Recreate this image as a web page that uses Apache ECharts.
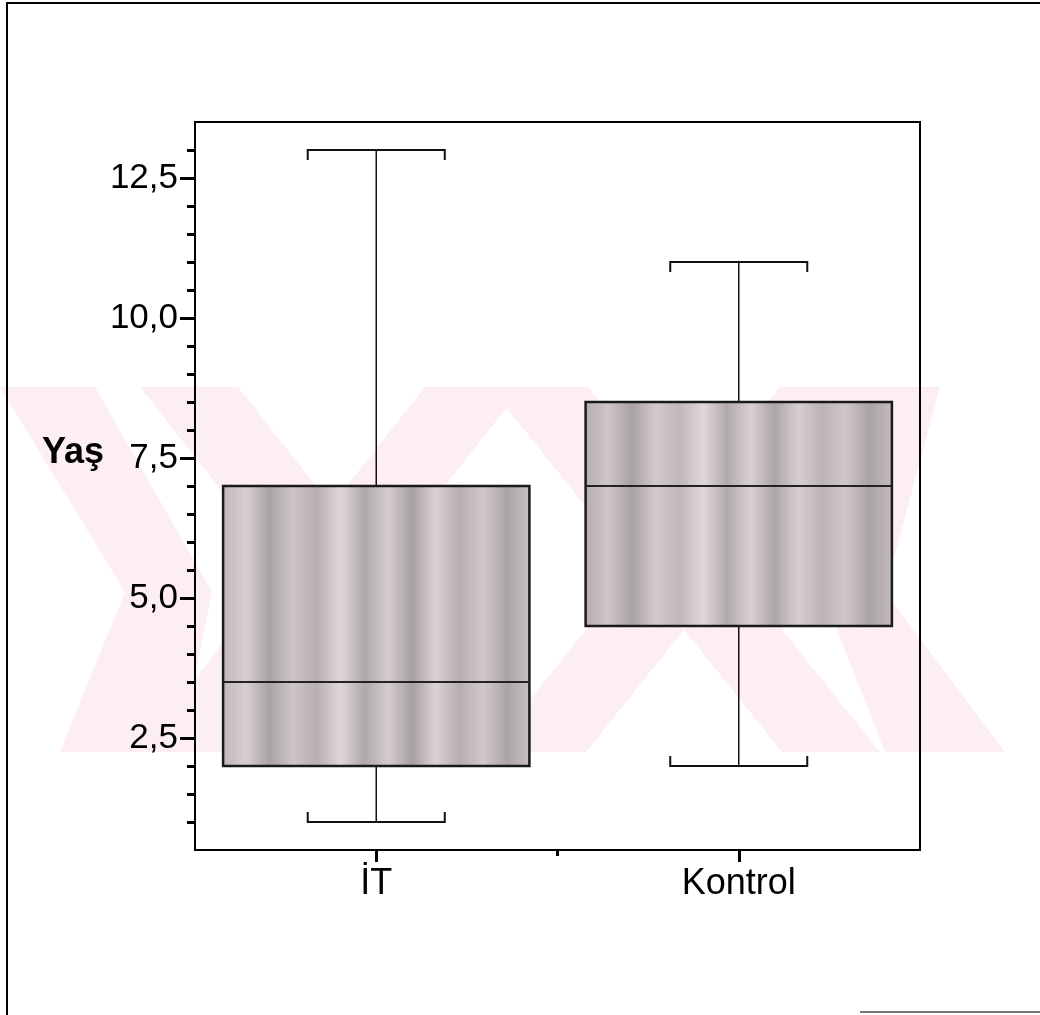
<!DOCTYPE html>
<html>
<head>
<meta charset="utf-8">
<title>Yaş</title>
<script src="https://cdn.jsdelivr.net/npm/echarts@6.0.0/dist/echarts.min.js"></script>
<style>
  html, body { margin: 0; padding: 0; background: #fff; }
  #chart { width: 1040px; height: 1015px; }
</style>
</head>
<body>
<div id="chart"></div>
<script>
// gruplar
var groups = ["İT", "Kontrol"];
// kutu grafiği: alt uç, Q1, medyan, Q3, üst uç
var whiskerLow = [1.0, 2.0];
var q1 = [2.0, 4.5];
var median = [3.5, 7.0];
var q3 = [7.0, 8.5];
var whiskerHigh = [13.0, 11.0];

// y ekseni
var yMin = 0.5, yMax = 13.5;
var yLabels = [2.5, 5.0, 7.5, 10.0, 12.5];
var yMinorTicks = [1.0, 1.5, 2.0, 3.0, 3.5, 4.0, 4.5, 5.5, 6.0, 6.5, 7.0,
                   8.0, 8.5, 9.0, 9.5, 10.5, 11.0, 11.5, 12.0, 13.0];

var font = "'Liberation Sans', Arial, sans-serif";

var rows = [];
for (var i = 0; i < groups.length; i++) {
  rows.push([i, whiskerLow[i], q1[i], median[i], q3[i], whiskerHigh[i]]);
}

// kutu dolgusu (dikey seritli gri-pembe doku)
var stripes = [
  ['#bdb5b8', '#d9cfd3', '#a9a3a6', '#cec4c8', '#b7afb2', '#e0d6da', '#aea8ab',
   '#d5cbcf', '#a6a0a3', '#dbd1d5', '#b6aeb1', '#d2c8cc', '#aaa4a7', '#c8bfc3'],
  ['#b4acaf', '#cfc5c9', '#a8a2a5', '#d3c9cd', '#bfb7ba', '#e2d8dc', '#b0aaad',
   '#dad0d4', '#aba5a8', '#d8ced2', '#bcb4b7', '#d0c6ca', '#a9a3a6', '#c4bbbf']
];
function boxFill(k) {
  var s = stripes[k % stripes.length];
  var stops = [];
  for (var j = 0; j < s.length; j++) {
    stops.push({ offset: j / (s.length - 1), color: s[j] });
  }
  return { type: 'linear', x: 0, y: 0, x2: 1, y2: 0, colorStops: stops };
}

function renderBox(params, api) {
  var i = api.value(0);
  var band = api.size([1, 0])[0];
  var boxW = band * 0.845;
  var capW = band * 0.378;
  var capTick = 10;
  var cx = api.coord([i, api.value(3)])[0];
  var yLo = api.coord([i, api.value(1)])[1];
  var yQ1 = api.coord([i, api.value(2)])[1];
  var yMed = api.coord([i, api.value(3)])[1];
  var yQ3 = api.coord([i, api.value(4)])[1];
  var yHi = api.coord([i, api.value(5)])[1];
  var thin = { stroke: '#111', lineWidth: 1.5, fill: null };
  var cap = { stroke: '#111', lineWidth: 2, fill: null };
  return {
    type: 'group',
    children: [
      { type: 'line', shape: { x1: cx, y1: yHi, x2: cx, y2: yQ3 }, style: thin },
      { type: 'line', shape: { x1: cx, y1: yQ1, x2: cx, y2: yLo }, style: thin },
      { type: 'polyline', shape: { points: [[cx - capW / 2, yHi + capTick], [cx - capW / 2, yHi],
          [cx + capW / 2, yHi], [cx + capW / 2, yHi + capTick]] }, style: cap },
      { type: 'polyline', shape: { points: [[cx - capW / 2, yLo - capTick], [cx - capW / 2, yLo],
          [cx + capW / 2, yLo], [cx + capW / 2, yLo - capTick]] }, style: cap },
      { type: 'rect', shape: { x: cx - boxW / 2, y: yQ3, width: boxW, height: yQ1 - yQ3 },
        style: { fill: boxFill(i), stroke: '#1a1a1a', lineWidth: 2.5 } },
      { type: 'line', shape: { x1: cx - boxW / 2, y1: yMed, x2: cx + boxW / 2, y2: yMed },
        style: { stroke: '#222', lineWidth: 2 } }
    ]
  };
}

var pink = '#fdeef1';
var option = {
  animation: false,
  backgroundColor: '#fff',
  graphic: [
    // arka plandaki soluk filigran
    { type: 'polygon', z: -5, silent: true, style: { fill: pink },
      shape: { points: [[0, 387], [95, 387], [212, 592], [180, 752], [60, 752], [125, 592]] } },
    { type: 'polygon', z: -5, silent: true, style: { fill: pink },
      shape: { points: [[140, 387], [238, 387], [525, 752], [427, 752]] } },
    { type: 'polygon', z: -5, silent: true, style: { fill: pink },
      shape: { points: [[425, 387], [523, 387], [235, 752], [137, 752]] } },
    { type: 'polygon', z: -5, silent: true, style: { fill: pink },
      shape: { points: [[490, 387], [588, 387], [880, 752], [782, 752]] } },
    { type: 'polygon', z: -5, silent: true, style: { fill: pink },
      shape: { points: [[780, 387], [878, 387], [586, 752], [488, 752]] } },
    { type: 'polygon', z: -5, silent: true, style: { fill: pink },
      shape: { points: [[872, 387], [940, 387], [885, 592], [1005, 752], [885, 752], [822, 592]] } },
    // dış çerçeve
    { type: 'polyline', z: 1, silent: true, shape: { points: [[7, 1015], [7, 3], [1040, 3]] },
      style: { stroke: '#000', lineWidth: 2, fill: null } },
    { type: 'line', z: 1, silent: true, shape: { x1: 860, y1: 1012, x2: 1040, y2: 1012 },
      style: { stroke: '#777', lineWidth: 2 } },
    // eksen başlığı
    { type: 'text', z: 5, left: 42, top: 435,
      style: { text: 'Yaş', font: 'bold 36px ' + font, fill: '#000' } }
  ],
  grid: {
    left: 195, right: 120, top: 122, bottom: 165,
    show: true, borderColor: '#000', borderWidth: 2, backgroundColor: 'transparent'
  },
  xAxis: [
    {
      type: 'category',
      data: groups,
      axisLine: { show: false },
      axisTick: { show: true, alignWithLabel: true, length: 12, lineStyle: { color: '#000', width: 3 } },
      axisLabel: { color: '#000', fontSize: 36, fontFamily: font, margin: 16 },
      splitLine: { show: false }
    },
    {
      type: 'value', min: 0, max: 2, position: 'bottom',
      axisLine: { show: false },
      axisTick: { show: true, customValues: [1], length: 6, lineStyle: { color: '#000', width: 3 } },
      axisLabel: { show: false },
      splitLine: { show: false }
    }
  ],
  yAxis: [
    {
      type: 'value', min: yMin, max: yMax,
      axisLine: { show: false },
      axisTick: { show: true, customValues: yLabels, length: 15, lineStyle: { color: '#000', width: 3 } },
      axisLabel: {
        customValues: yLabels, color: '#000', fontSize: 35, fontFamily: font, margin: 17,
        formatter: function (v) { return v.toFixed(1).replace('.', ','); }
      },
      splitLine: { show: false }
    },
    {
      type: 'value', min: yMin, max: yMax, position: 'left',
      axisLine: { show: false },
      axisTick: { show: true, customValues: yMinorTicks, length: 8, lineStyle: { color: '#000', width: 3 } },
      axisLabel: { show: false },
      splitLine: { show: false }
    }
  ],
  series: [
    {
      type: 'custom',
      xAxisIndex: 0,
      yAxisIndex: 0,
      z: 3,
      renderItem: renderBox,
      encode: { x: 0, y: [1, 2, 3, 4, 5] },
      data: rows
    }
  ]
};

var chart = echarts.init(document.getElementById('chart'));
chart.setOption(option);
</script>
</body>
</html>
